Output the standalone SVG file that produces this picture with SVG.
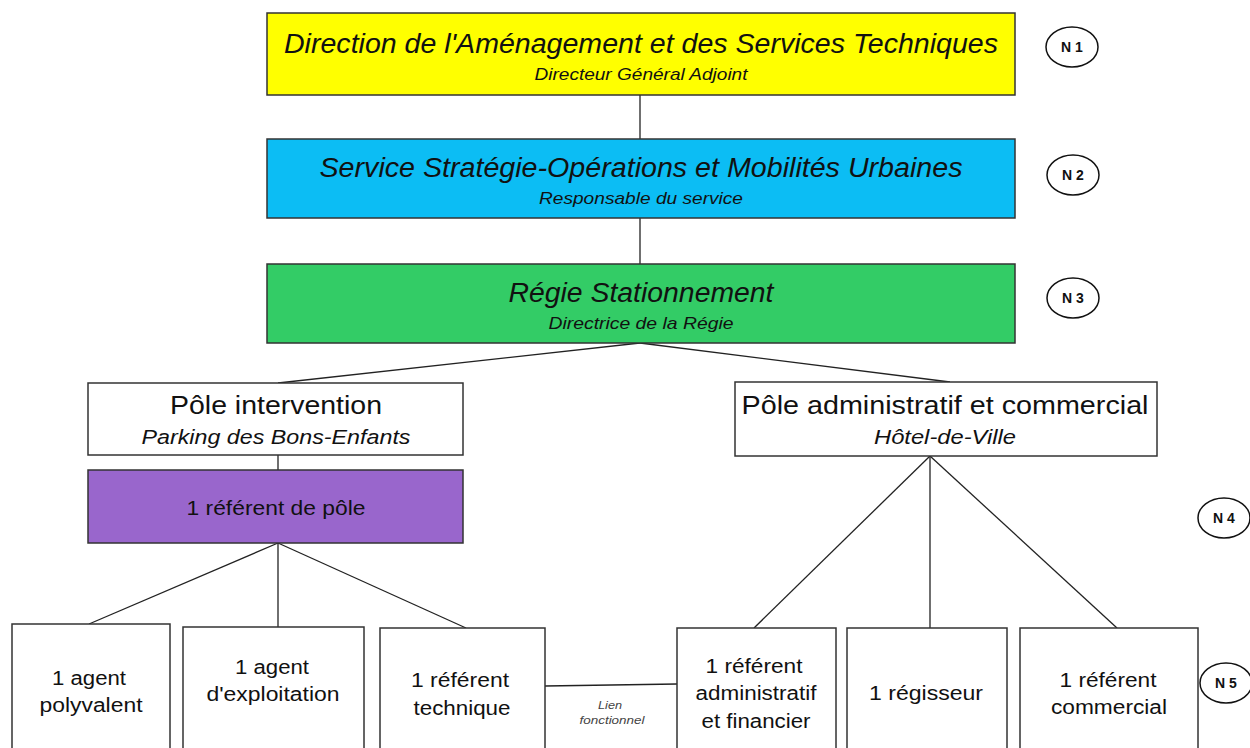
<svg xmlns="http://www.w3.org/2000/svg" width="1250" height="748" viewBox="0 0 1250 748">
<style>
text{font-family:"Liberation Sans",Arial,sans-serif;fill:#111;text-anchor:middle}
.box{stroke:#333;stroke-width:1.5}
.w{fill:#fff}
.t1{font-size:27px;font-style:italic}
.s1{font-size:17px;font-style:italic}
.p{font-size:25px}
.ps{font-size:20px;font-style:italic}
.b{font-size:20px}
.lvl{fill:#fff;stroke:#111;stroke-width:1.5}
.lt{font-size:14px;font-weight:bold}
.con{stroke:#222;stroke-width:1.3;fill:none}
.lf{font-size:11px;font-style:italic;fill:#444}
</style>
<rect width="1250" height="748" fill="#fff"/>
<g id="connectors">
<line class="con" x1="640" y1="95" x2="640" y2="139"/>
<line class="con" x1="640" y1="218" x2="640" y2="264"/>
<line class="con" x1="640" y1="343" x2="278" y2="383"/>
<line class="con" x1="640" y1="343" x2="950" y2="382"/>
<line class="con" x1="278" y1="455" x2="278" y2="470"/>
<line class="con" x1="278" y1="543" x2="89" y2="624"/>
<line class="con" x1="278" y1="543" x2="278" y2="627"/>
<line class="con" x1="278" y1="543" x2="466" y2="628"/>
<line class="con" x1="930" y1="456" x2="754" y2="628"/>
<line class="con" x1="930" y1="456" x2="930" y2="628"/>
<line class="con" x1="930" y1="456" x2="1117" y2="628"/>
<line class="con" x1="545" y1="686" x2="677" y2="684"/>
<text class="lf" x="610" y="709" textLength="24" lengthAdjust="spacingAndGlyphs">Lien</text>
<text class="lf" x="612" y="724" textLength="65" lengthAdjust="spacingAndGlyphs">fonctionnel</text>
</g>
<g id="n1">
<rect class="box" x="267" y="13" width="748" height="82" fill="#ffff00"/>
<text class="t1" x="641" y="53" textLength="714" lengthAdjust="spacingAndGlyphs">Direction de l'Aménagement et des Services Techniques</text>
<text class="s1" x="641" y="80" textLength="213" lengthAdjust="spacingAndGlyphs">Directeur Général Adjoint</text>
</g>
<g id="n2">
<rect class="box" x="267" y="139" width="748" height="79" fill="#0cbdf4"/>
<text class="t1" x="641" y="177" textLength="643" lengthAdjust="spacingAndGlyphs">Service Stratégie-Opérations et Mobilités Urbaines</text>
<text class="s1" x="641" y="204" textLength="204" lengthAdjust="spacingAndGlyphs">Responsable du service</text>
</g>
<g id="n3">
<rect class="box" x="267" y="264" width="748" height="79" fill="#33cc66"/>
<text class="t1" x="641" y="302" textLength="265" lengthAdjust="spacingAndGlyphs">Régie Stationnement</text>
<text class="s1" x="641" y="329" textLength="185" lengthAdjust="spacingAndGlyphs">Directrice de la Régie</text>
</g>
<g id="pole-intervention">
<rect class="box w" x="88" y="383" width="375" height="72"/>
<text class="p" x="276" y="414" textLength="212" lengthAdjust="spacingAndGlyphs">Pôle intervention</text>
<text class="ps" x="276" y="444" textLength="269" lengthAdjust="spacingAndGlyphs">Parking des Bons-Enfants</text>
</g>
<g id="pole-admin">
<rect class="box w" x="735" y="382" width="422" height="74"/>
<text class="p" x="945" y="414" textLength="407" lengthAdjust="spacingAndGlyphs">Pôle administratif et commercial</text>
<text class="ps" x="945" y="444" textLength="142" lengthAdjust="spacingAndGlyphs">Hôtel-de-Ville</text>
</g>
<g id="referent-pole">
<rect class="box" x="88" y="470" width="375" height="73" fill="#9966cc"/>
<text class="b" x="276" y="515" textLength="179" lengthAdjust="spacingAndGlyphs">1 référent de pôle</text>
</g>
<g id="agent-polyvalent">
<rect class="box w" x="12" y="624" width="158" height="140"/>
<text class="b" x="89" y="685" textLength="74" lengthAdjust="spacingAndGlyphs">1 agent</text>
<text class="b" x="91" y="712" textLength="103" lengthAdjust="spacingAndGlyphs">polyvalent</text>
</g>
<g id="agent-exploitation">
<rect class="box w" x="183" y="627" width="181" height="140"/>
<text class="b" x="272" y="674" textLength="74" lengthAdjust="spacingAndGlyphs">1 agent</text>
<text class="b" x="273" y="701" textLength="133" lengthAdjust="spacingAndGlyphs">d'exploitation</text>
</g>
<g id="referent-technique">
<rect class="box w" x="380" y="628" width="165" height="140"/>
<text class="b" x="460" y="687" textLength="98" lengthAdjust="spacingAndGlyphs">1 référent</text>
<text class="b" x="462" y="715" textLength="97" lengthAdjust="spacingAndGlyphs">technique</text>
</g>
<g id="referent-admin">
<rect class="box w" x="677" y="628" width="159" height="140"/>
<text class="b" x="754" y="673" textLength="97" lengthAdjust="spacingAndGlyphs">1 référent</text>
<text class="b" x="756" y="700" textLength="121" lengthAdjust="spacingAndGlyphs">administratif</text>
<text class="b" x="756" y="728" textLength="109" lengthAdjust="spacingAndGlyphs">et financier</text>
</g>
<g id="regisseur">
<rect class="box w" x="847" y="628" width="160" height="140"/>
<text class="b" x="926" y="700" textLength="114" lengthAdjust="spacingAndGlyphs">1 régisseur</text>
</g>
<g id="referent-commercial">
<rect class="box w" x="1020" y="628" width="178" height="140"/>
<text class="b" x="1108" y="687" textLength="97" lengthAdjust="spacingAndGlyphs">1 référent</text>
<text class="b" x="1109" y="714" textLength="116" lengthAdjust="spacingAndGlyphs">commercial</text>
</g>
<g id="levels">
<g id="lvl-n1"><ellipse class="lvl" cx="1072" cy="47" rx="26" ry="20"/><text class="lt" x="1072" y="52">N 1</text></g>
<g id="lvl-n2"><ellipse class="lvl" cx="1073" cy="175" rx="26" ry="20"/><text class="lt" x="1073" y="180">N 2</text></g>
<g id="lvl-n3"><ellipse class="lvl" cx="1073" cy="298" rx="26" ry="20"/><text class="lt" x="1073" y="303">N 3</text></g>
<g id="lvl-n4"><ellipse class="lvl" cx="1224" cy="518" rx="26" ry="20"/><text class="lt" x="1224" y="523">N 4</text></g>
<g id="lvl-n5"><ellipse class="lvl" cx="1226" cy="683" rx="26" ry="20"/><text class="lt" x="1226" y="688">N 5</text></g>
</g>
</svg>
